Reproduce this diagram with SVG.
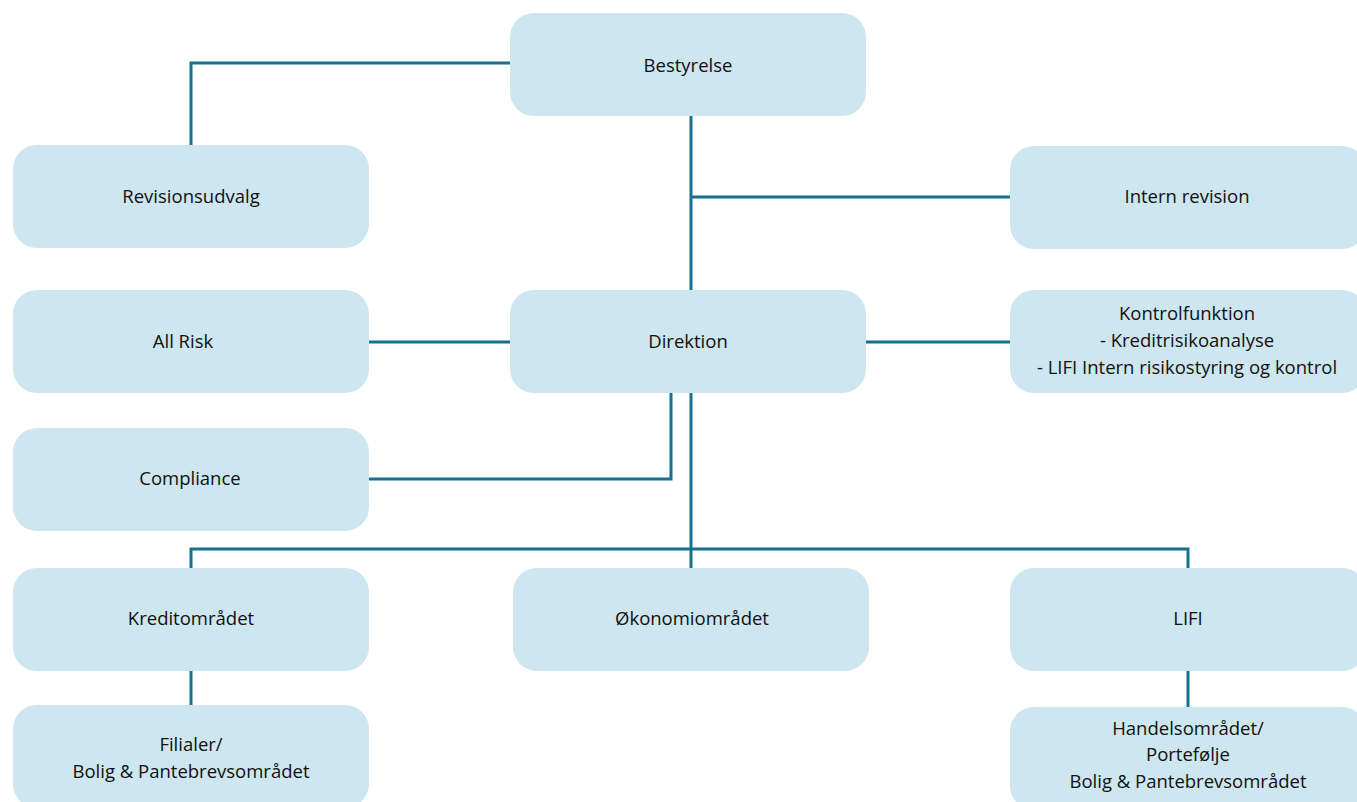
<svg xmlns="http://www.w3.org/2000/svg" width="1357" height="802" viewBox="0 0 1357 802">
<style>
.box{fill:#cde6ef}
.t{font-family:"Open Sans","Noto Sans","Liberation Sans",sans-serif;font-size:18.5px;fill:#111111;text-anchor:middle;dominant-baseline:central}
.c{fill:none;stroke:#17718f;stroke-width:3}
</style>
<rect width="1357" height="802" fill="#ffffff"/>
<g id="connectors">
<path class="c" d="M510,63 H191 V145"/>
<path class="c" d="M691,116 V290"/>
<path class="c" d="M691,197 H1010"/>
<path class="c" d="M369,342 H510"/>
<path class="c" d="M866,342 H1010"/>
<path class="c" d="M671,393 V479 H369"/>
<path class="c" d="M691,393 V568"/>
<path class="c" d="M191,568 V549 H1188 V568"/>
<path class="c" d="M191,671 V705"/>
<path class="c" d="M1188,671 V707"/>
</g>
<g id="bestyrelse"><rect class="box" x="510" y="13" width="356" height="103" rx="24"/><text class="t" x="688" y="64">Bestyrelse</text></g>
<g id="revisionsudvalg"><rect class="box" x="13" y="145" width="356" height="103" rx="24"/><text class="t" x="191" y="195">Revisionsudvalg</text></g>
<g id="intern-revision"><rect class="box" x="1010" y="146" width="356" height="103" rx="24"/><text class="t" x="1187" y="195">Intern revision</text></g>
<g id="all-risk"><rect class="box" x="13" y="290" width="356" height="103" rx="24"/><text class="t" x="183" y="340">All Risk</text></g>
<g id="direktion"><rect class="box" x="510" y="290" width="356" height="103" rx="24"/><text class="t" x="688" y="340">Direktion</text></g>
<g id="kontrolfunktion"><rect class="box" x="1010" y="290" width="356" height="103" rx="24"/><text class="t" x="1187" y="312">Kontrolfunktion</text><text class="t" x="1187" y="339">- Kreditrisikoanalyse</text><text class="t" x="1187" y="366">- LIFI Intern risikostyring og kontrol</text></g>
<g id="compliance"><rect class="box" x="13" y="428" width="356" height="103" rx="24"/><text class="t" x="190" y="477">Compliance</text></g>
<g id="kreditomraadet"><rect class="box" x="13" y="568" width="356" height="103" rx="24"/><text class="t" x="191" y="617">Kreditområdet</text></g>
<g id="oekonomiomraadet"><rect class="box" x="513" y="568" width="356" height="103" rx="24"/><text class="t" x="692" y="617">Økonomiområdet</text></g>
<g id="lifi"><rect class="box" x="1010" y="568" width="356" height="103" rx="24"/><text class="t" x="1188" y="617">LIFI</text></g>
<g id="filialer"><rect class="box" x="13" y="705" width="356" height="103" rx="24"/><text class="t" x="191" y="743">Filialer/</text><text class="t" x="191" y="770">Bolig &amp; Pantebrevsområdet</text></g>
<g id="handelsomraadet"><rect class="box" x="1010" y="707" width="356" height="103" rx="24"/><text class="t" x="1188" y="727">Handelsområdet/</text><text class="t" x="1188" y="753">Portefølje</text><text class="t" x="1188" y="780">Bolig &amp; Pantebrevsområdet</text></g>
</svg>
